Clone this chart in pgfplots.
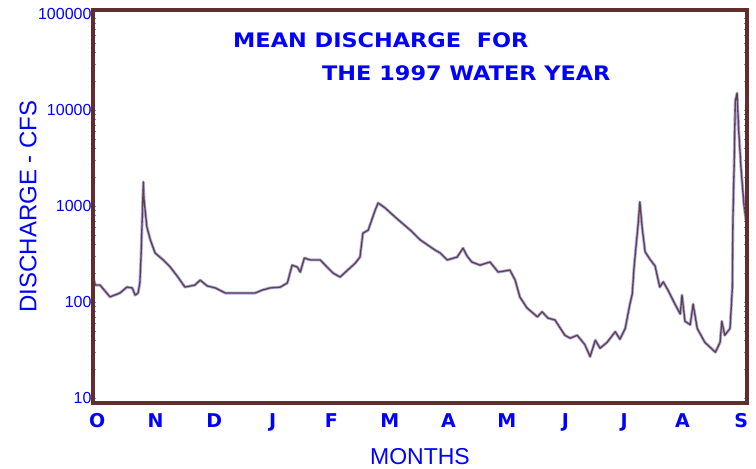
\documentclass[border=0pt]{standalone}
\usepackage{fontspec}
\setmainfont{Liberation Sans}
\newfontfamily\djv{DejaVu Sans}
\usepackage{pgfplots}
\usepackage{pgfplotstable}
\pgfplotsset{compat=1.18}
\definecolor{tickblue}{RGB}{0,0,255}
\definecolor{framebrown}{RGB}{100,45,45}
\definecolor{curvebrown}{RGB}{100,65,65}
\definecolor{curveblue}{RGB}{170,170,235}

% x: month index (0 = O ... 11 = S), y: mean discharge in cfs
\pgfplotstableread{
x y
-0.07 182
-0.03 150
0.05 150
0.22 113
0.39 124
0.51 143
0.60 140
0.65 118
0.70 124
0.73 158
0.75 294
0.77 714
0.79 1778
0.80 1200
0.82 908
0.85 605
0.91 443
0.99 324
1.13 274
1.25 231
1.38 182
1.50 143
1.67 150
1.76 169
1.88 147
2.02 140
2.19 124
2.44 124
2.70 124
2.82 133
2.95 140
3.13 143
3.25 158
3.33 242
3.42 231
3.47 205
3.54 287
3.64 274
3.81 274
4.03 200
4.15 182
4.41 254
4.49 294
4.54 521
4.63 560
4.75 908
4.80 1075
4.92 953
5.09 767
5.35 560
5.52 443
5.77 348
5.86 324
5.98 274
6.15 294
6.25 364
6.32 300
6.40 261
6.54 242
6.71 261
6.85 205
7.05 215
7.14 169
7.22 113
7.34 87
7.52 70
7.60 79
7.70 68
7.82 65
7.99 45
8.08 42
8.20 45
8.33 36
8.42 27
8.51 40
8.59 33
8.71 38
8.85 49
8.93 41
9.02 53
9.10 95
9.14 121
9.17 225
9.20 356
9.24 637
9.27 1100
9.31 590
9.36 333
9.44 280
9.53 237
9.61 143
9.67 162
9.75 133
9.87 95
9.96 75
9.99 118
10.04 63
10.13 58
10.18 95
10.25 53
10.38 38
10.56 30
10.64 38
10.67 63
10.72 45
10.81 53
10.85 143
10.86 750
10.88 2600
10.90 12400
10.93 15000
10.96 5900
11.00 2370
11.05 1000
11.10 600
}\discharge

\begin{document}
\begin{tikzpicture}[x=1pt,y=1pt]
\useasboundingbox (-93,-66) rectangle (663,403);
\begin{axis}[
  at={(0,0)}, anchor=south west,
  scale only axis, width=654pt, height=393pt,
  ymode=log, ymin=8.87, ymax=110000,
  xmin=-0.07, xmax=11.10,
  ytick={10,100,1000,10000,100000},
  yticklabels={10,100,1000,10000,100000},
  xtick={0,1,2,3,4,5,6,7,8,9,10,11},
  xticklabels={O,N,D,J,F,M,A,M,J,J,A,S},
  major tick length=0pt, minor tick num=0,
  axis line style={framebrown, line width=3.5pt},
  axis on top,
  clip=true,
  yticklabel style={font=\fontsize{16}{16}\selectfont, text=tickblue, xshift=2pt},
  xticklabel style={font=\djv\bfseries\fontsize{19}{19}\selectfont, text=tickblue, yshift=-7pt},
  xlabel={MONTHS},
  ylabel={DISCHARGE - CFS},
  every axis x label/.style={at={(axis description cs:0.5,-0.1374)}, anchor=center, font=\fontsize{23}{23}\selectfont, text=tickblue},
  every axis y label/.style={at={(axis description cs:-0.0994,0.5)}, anchor=center, rotate=90, font=\fontsize{24}{24}\selectfont, text=tickblue},
]
\addplot[curveblue, line width=3pt, line join=round] table[x=x, y=y] {\discharge};
\addplot[curvebrown, line width=1.3pt, line join=round] table[x=x, y=y] {\discharge};
\end{axis}
\node[anchor=west, text=tickblue, inner sep=0pt] at (140,363) {\scalebox{1.12}[1]{\djv\bfseries\fontsize{20}{20}\selectfont MEAN DISCHARGE\ \ FOR}};
\node[anchor=west, text=tickblue, inner sep=0pt] at (229,330) {\scalebox{1.12}[1]{\djv\bfseries\fontsize{20}{20}\selectfont THE 1997 WATER YEAR}};
\end{tikzpicture}
\end{document}
